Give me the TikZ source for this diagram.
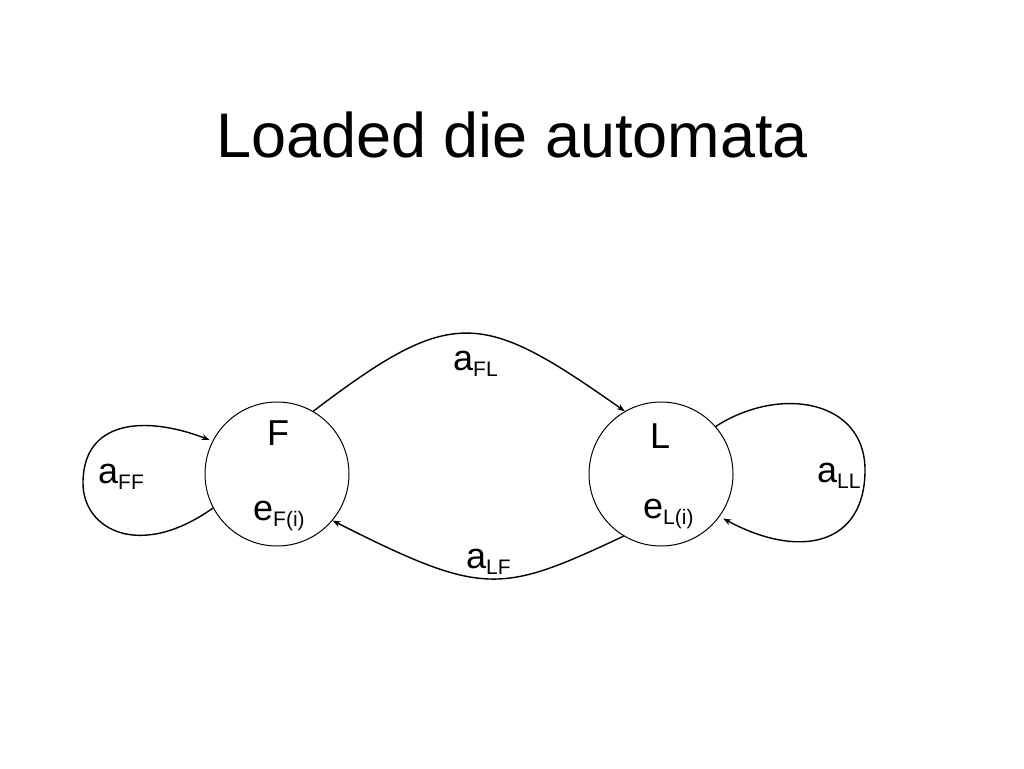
\documentclass[tikz,border=0pt]{standalone}
\usepackage{fontspec}
\setmainfont{Liberation Sans}
\usetikzlibrary{arrows.meta}
\newcommand\subtxt[1]{\raisebox{-6.5pt}{\fontsize{21}{21}\selectfont #1}}
\begin{document}
\begin{tikzpicture}[x=1pt,y=-1pt,
  state/.style={draw, circle, line width=1pt, minimum size=144pt, inner sep=0pt},
  lbl/.style={inner sep=0pt, font=\fontsize{36}{36}\selectfont},
  conn/.style={line width=1.4pt, -{Stealth[length=8pt,width=6pt]}},
  title/.style={inner sep=0pt, font=\fontsize{63}{63}\selectfont}]
\useasboundingbox (0,0) rectangle (1024,768);
\node[title, anchor=base] (title) at (512,157) {Loaded die automata};
% states
\node[state] (F) at (277,474) {};
\node[state] (L) at (661,474) {};
\node[lbl, anchor=base] (Ft) at (278,445) {F};
\node[lbl, anchor=base west] (Fe) at (253,520) {e\subtxt{F(i)}};
\node[lbl, anchor=base] (Lt) at (660,448) {L};
\node[lbl, anchor=base west] (Le) at (643,518) {e\subtxt{L(i)}};
% transitions
\draw[conn] (F.60) .. controls (453,305) and (481,310) .. (L.120);
\draw[conn] (L.239) .. controls (500,594) and (484,597) .. (F.-40);
\draw[conn, shorten >=3pt] (F.208) .. controls (140,560) and (83,530) .. (83,483)
  .. controls (83,420) and (145,415) .. (F.153);
\draw[conn, shorten >=4pt] (L.41) .. controls (780,385) and (865,400) .. (865,470)
  .. controls (865,545) and (800,560) .. (L.-36);
% transition labels
\node[lbl, anchor=base west] (aFL) at (453,370) {a\subtxt{FL}};
\node[lbl, anchor=base west] (aLF) at (466,568) {a\subtxt{LF}};
\node[lbl, anchor=base west] (aFF) at (98,483) {a\subtxt{FF}};
\node[lbl, anchor=base west] (aLL) at (817,482) {a\subtxt{LL}};
\end{tikzpicture}
\end{document}
